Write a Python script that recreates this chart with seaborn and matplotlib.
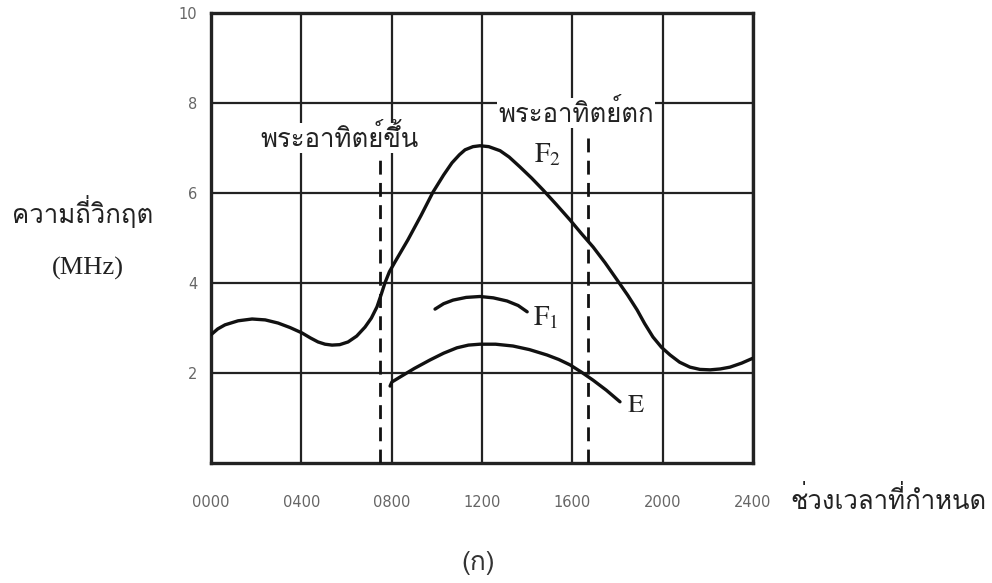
import matplotlib
matplotlib.use("Agg")
import matplotlib.pyplot as plt
import seaborn as sns
import pandas as pd
from matplotlib import font_manager
from matplotlib.ft2font import FT2Font

# ---------------- data ----------------
f2_time = [0, 30, 62, 120, 182, 240, 297, 350, 403, 440, 474, 505, 536, 570, 607, 645, 682, 710,
           735, 752, 770, 790, 815, 872, 930, 983, 1030, 1067, 1100, 1125, 1160, 1191, 1230, 1280,
           1320, 1368, 1420, 1470, 1530, 1590, 1640, 1692, 1745, 1798, 1845, 1887, 1920, 1957,
           1995, 2033, 2075, 2121, 2165, 2210, 2255, 2298, 2350, 2400]
f2_freq = [2.85, 2.98, 3.07, 3.16, 3.2, 3.18, 3.11, 3.01, 2.89, 2.78, 2.69, 2.64, 2.62, 2.63, 2.69,
           2.82, 3.02, 3.22, 3.47, 3.72, 4.0, 4.25, 4.47, 4.96, 5.5, 6.02, 6.4, 6.67, 6.85, 6.96,
           7.03, 7.05, 7.03, 6.94, 6.8, 6.58, 6.33, 6.07, 5.74, 5.4, 5.1, 4.8, 4.45, 4.07, 3.73,
           3.4, 3.1, 2.8, 2.57, 2.4, 2.24, 2.13, 2.08, 2.07, 2.09, 2.13, 2.22, 2.33]
f1_time = [992, 1030, 1072, 1130, 1191, 1250, 1311, 1360, 1400]
f1_freq = [3.42, 3.54, 3.62, 3.68, 3.7, 3.67, 3.6, 3.5, 3.36]
e_time = [793, 801, 837, 900, 970, 1030, 1089, 1140, 1191, 1260, 1337, 1410, 1488, 1540, 1590,
          1640, 1692, 1750, 1811]
e_freq = [1.71, 1.8, 1.91, 2.1, 2.29, 2.44, 2.56, 2.62, 2.64, 2.64, 2.6, 2.52, 2.4, 2.3, 2.18,
          2.02, 1.84, 1.62, 1.36]

sunrise_time = 748
sunset_time = 1670
sunrise_top = 6.84
sunset_top = 7.4

x_ticks = [0, 400, 800, 1200, 1600, 2000, 2400]
x_tick_labels = ["0000", "0400", "0800", "1200", "1600", "2000", "2400"]
y_ticks = [2, 4, 6, 8, 10]

y_label = "ความถี่วิกฤต"
y_unit = "(MHz)"
x_label = "ช่วงเวลาที่กำหนด"
caption = "(ก)"
sunrise_label = "พระอาทิตย์ขึ้น"
sunset_label = "พระอาทิตย์ตก"

# ---------------- fonts ----------------
thai_fonts = []
seen = set()
for f in font_manager.fontManager.ttflist:
    if f.name in seen:
        continue
    try:
        if 0x0E01 in FT2Font(f.fname).get_charmap():
            thai_fonts.append(f.name)
            seen.add(f.name)
    except Exception:
        pass
thai_family = thai_fonts + ["DejaVu Sans"]

sns.set_theme(style="white")
plt.rcParams["font.family"] = thai_family
plt.rcParams["mathtext.fontset"] = "stix"

fig = plt.figure(figsize=(9.92, 5.83), dpi=100)
ax = fig.add_axes([211 / 992, 1 - 463 / 583, (753 - 211) / 992, (463 - 13) / 583])

df_f2 = pd.DataFrame({"t": f2_time, "f": f2_freq})
df_f1 = pd.DataFrame({"t": f1_time, "f": f1_freq})
df_e = pd.DataFrame({"t": e_time, "f": e_freq})
for d in (df_f2, df_f1, df_e):
    sns.lineplot(data=d, x="t", y="f", ax=ax, color="#111111", lw=2.4, zorder=5)
for ln in ax.lines:
    ln.set_solid_joinstyle("round")
    ln.set_solid_capstyle("round")

ax.set_xlim(0, 2400)
ax.set_ylim(0, 10)
ax.set_xticks(x_ticks)
ax.set_xticklabels(x_tick_labels)
ax.set_yticks(y_ticks)
ax.grid(True, color="#222222", lw=1.6)
ax.set_axisbelow(True)
for s in ax.spines.values():
    s.set_color("#222222")
    s.set_linewidth(2.4)
ax.tick_params(axis="both", length=0, labelsize=10.5, labelcolor="#666666")
ax.tick_params(axis="x", pad=23)
ax.tick_params(axis="y", pad=10)
for lab in ax.get_xticklabels() + ax.get_yticklabels():
    lab.set_family(["DejaVu Sans"])
ax.set_xlabel("")
ax.set_ylabel("")

# sunrise / sunset dashed lines
ax.plot([sunrise_time, sunrise_time], [0, sunrise_top], color="#111111", lw=2, ls=(0, (5, 3)), zorder=4)
ax.plot([sunset_time, sunset_time], [0, sunset_top], color="#111111", lw=2, ls=(0, (5, 3)), zorder=4)

bbox = dict(facecolor="white", edgecolor="none", pad=1)
ax.text(567, 7.22, sunrise_label, ha="center", va="center", fontsize=18.5, color="#222222",
        bbox=bbox, zorder=6, family=thai_family)
ax.text(1617, 7.78, sunset_label, ha="center", va="center", fontsize=18.5, color="#222222",
        bbox=bbox, zorder=6, family=thai_family)

# curve labels
ax.text(1492, 6.84, r"$\mathrm{F}_2$", ha="center", va="center", fontsize=20, color="#222222", zorder=6)
ax.text(1484, 3.22, r"$\mathrm{F}_1$", ha="center", va="center", fontsize=20, color="#222222", zorder=6)
ax.text(1882, 1.29, r"$\mathrm{E}$", ha="center", va="center", fontsize=19, color="#222222", zorder=6)

# axis titles
fig.text(83 / 992, 1 - 212 / 583, y_label, ha="center", va="center", fontsize=18.5, color="#222222",
         family=thai_family)
fig.text(88 / 992, 1 - 268 / 583, y_unit, ha="center", va="center", fontsize=19, color="#222222",
         family=["Liberation Serif", "DejaVu Serif"])
fig.text(888 / 992, 1 - 500 / 583, x_label, ha="center", va="center", fontsize=18.5, color="#222222",
         family=thai_family)
fig.text(478 / 992, 1 - 563 / 583, caption, ha="center", va="center", fontsize=19, color="#333333",
         family=thai_family)

fig.savefig("out.png", dpi=100, facecolor="white")
